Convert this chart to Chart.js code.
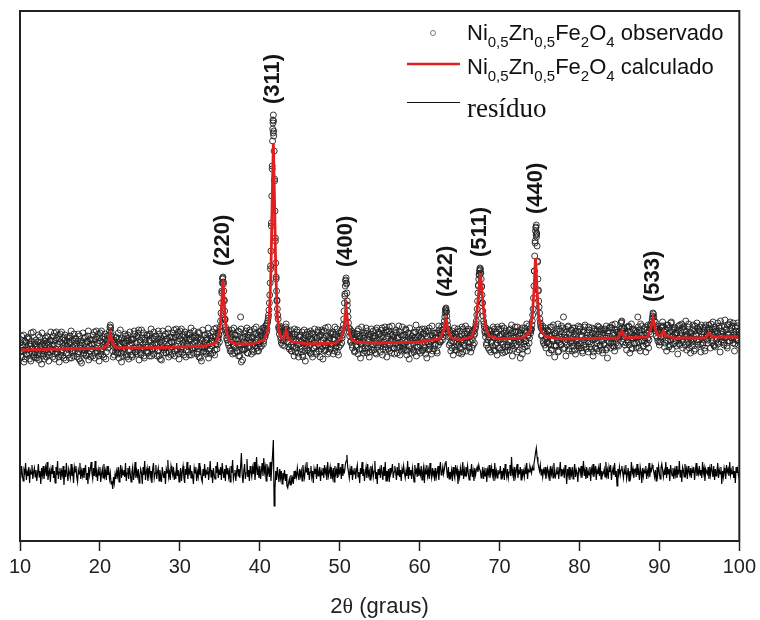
<!DOCTYPE html>
<html>
<head>
<meta charset="utf-8">
<script src="https://cdn.jsdelivr.net/npm/chart.js"></script>
<style>
  body { margin: 0; background: #fff; }
</style>
</head>
<body>
<canvas id="xrdChart" width="760" height="620"></canvas>

<script>
// 2θ grid of the measured pattern (10 to 100, step 0.1; second pass shifted by 0.05)
const thetaStart = 10;
const thetaStep = 0.1;
const thetaShiftB = 0.05;

// observed intensity at 10.0, 10.1, ... one line per degree
const obsCounts = [
198,185,205,190,194,179,200,196,187,203,
191,202,182,197,208,188,193,184,199,189,
201,192,186,206,181,195,199,177,197,190,
187,196,203,184,198,204,180,194,189,200,
196,184,200,208,187,192,203,189,206,179,
199,186,209,191,195,183,201,197,188,204,
192,203,183,198,210,189,194,185,200,190,
202,193,187,207,182,196,200,178,198,191,
188,197,204,185,199,205,181,195,190,201,
197,185,201,209,188,193,204,190,207,180,
200,187,210,192,196,184,202,198,189,205,
193,201,210,216,209,202,190,198,186,196,
203,194,188,208,183,197,201,179,199,192,
189,198,205,186,200,206,182,196,191,202,
198,186,202,210,189,194,205,191,208,181,
201,188,211,193,197,185,203,199,190,206,
194,205,185,200,212,191,196,187,202,192,
205,196,190,210,185,199,203,181,201,194,
191,200,207,188,202,208,184,198,193,204,
199,187,203,211,190,195,206,192,209,182,
202,189,212,194,198,186,204,200,191,207,
195,206,186,201,213,192,197,188,203,193,
204,195,189,209,184,198,202,180,200,193,
190,199,206,187,201,207,183,197,192,203,
200,188,204,212,191,197,208,196,203,206,
210,220,238,258,264,250,230,214,208,201,
205,196,208,190,199,211,187,201,195,206,
193,202,189,210,196,185,224,179,203,191,
200,207,192,198,213,188,203,195,209,199,
204,191,198,212,195,201,208,190,206,197,
199,210,195,205,213,200,211,206,216,212,
220,226,238,258,290,345,400,426,390,330,
278,250,232,222,212,215,204,198,209,201,
206,195,211,217,207,199,210,192,203,196,
190,204,199,185,207,201,193,211,188,197,
206,195,189,209,184,198,202,180,200,193,
191,200,207,188,202,208,184,198,193,204,
200,187,203,211,190,195,206,192,209,182,
203,190,213,195,199,187,205,201,192,208,
196,207,187,202,214,193,198,189,204,194,
205,196,208,203,212,222,238,255,263,248,
230,218,209,212,200,206,193,203,208,190,
201,194,210,187,199,205,183,197,192,206,
208,199,193,213,188,202,206,184,204,197,
194,203,210,191,205,211,187,201,196,207,
202,189,205,213,192,197,208,194,211,184,
205,192,214,196,200,188,206,202,193,209,
197,208,188,203,215,194,199,190,205,195,
206,197,191,211,186,200,204,182,202,195,
192,201,208,189,203,209,185,199,194,205,
201,188,204,212,191,196,207,193,210,183,
204,191,213,195,199,187,205,201,192,208,
197,208,188,203,215,200,199,206,211,204,
212,220,228,233,225,216,209,196,205,190,
200,210,186,203,194,207,191,199,212,197,
205,193,201,214,189,198,207,195,203,210,
199,212,193,205,189,208,201,196,210,207,
214,220,232,248,262,270,272,262,246,230,
220,214,208,213,198,207,193,204,210,189,
198,207,214,191,203,196,209,186,201,212,
193,205,199,215,188,202,208,194,206,190,
207,196,211,191,200,216,185,203,198,209,
195,204,189,210,199,206,183,201,213,192,
203,210,194,200,217,190,205,198,212,208,
212,220,232,255,285,310,316,295,262,240,
228,218,213,206,215,198,209,202,193,207,
199,210,188,205,196,214,191,202,207,184,
208,195,203,217,190,199,210,196,204,213,
224,206,199,185,209,201,215,192,203,198,
211,190,204,198,213,187,206,200,195,209,
197,214,193,205,188,210,201,216,194,203,
206,189,211,199,204,192,208,185,203,212,
193,204,198,215,190,207,196,212,200,188,
208,197,212,191,205,183,210,199,214,193,
202,216,195,206,190,211,198,209,204,195,
207,212,218,220,210,202,213,196,208,191,
210,199,214,188,205,217,193,203,211,197,
204,193,209,224,199,211,190,206,215,200,
195,212,203,189,208,198,216,201,213,207,
216,222,228,224,214,219,205,212,200,208,
196,211,204,213,219,215,209,198,212,190,
207,216,194,209,201,219,192,205,212,198,
213,200,208,187,215,203,196,210,217,193,
199,211,205,220,191,207,214,197,203,188,
208,195,216,202,210,192,206,218,199,212,
201,214,189,207,196,213,204,190,216,205,
211,198,216,212,193,207,200,219,196,209,
194,210,203,218,199,213,189,207,215,201,
209,196,221,204,212,193,206,217,200,211,
203,215,198,209,190,214,207,201,218,196,
206
];

// observed intensity at 10.05, 10.15, ... 99.95
const obsCountsB = [
189,201,184,196,206,191,182,199,194,186,
204,188,195,180,200,192,209,186,197,183,
195,183,199,190,204,187,196,208,185,198,
182,200,191,205,188,197,186,201,209,192,
190,205,196,182,201,209,188,197,184,202,
207,189,198,185,203,193,206,181,200,195,
186,199,205,192,183,201,190,207,195,203,
197,184,200,189,205,180,198,191,208,187,
203,191,186,200,193,210,187,202,184,196,
192,206,197,183,202,210,189,198,185,203,
208,190,199,186,204,194,207,182,201,196,
197,206,214,213,205,199,184,201,193,189,
204,191,187,202,195,211,188,203,185,198,
193,207,198,184,203,190,200,209,186,201,
184,202,193,207,189,198,187,204,211,194,
199,186,203,192,208,183,201,194,206,189,
188,201,207,194,185,203,192,209,197,205,
198,185,202,191,207,182,200,193,210,188,
205,193,188,202,195,212,189,204,186,199,
194,208,199,185,204,212,191,200,187,205,
210,192,201,188,206,196,209,184,203,197,
189,202,208,195,186,204,193,210,198,206,
200,187,203,192,208,183,201,194,211,189,
206,194,189,203,196,213,190,205,187,200,
195,209,200,186,205,213,192,201,207,199,
214,228,250,263,257,241,221,211,203,209,
198,211,193,204,190,207,196,213,188,202,
206,190,200,185,209,197,212,192,181,204,
191,204,210,197,188,206,194,211,200,187,
203,196,189,207,199,214,193,202,190,209,
194,206,201,208,197,213,204,215,209,218,
223,231,246,275,315,375,421,410,362,303,
264,241,226,214,207,210,201,213,196,205,
200,209,214,212,203,207,194,205,211,190,
207,194,202,212,189,200,209,196,184,204,
192,205,199,186,203,211,190,206,197,209,
204,190,196,210,187,201,207,193,212,195,
189,203,209,196,205,184,200,211,194,201,
210,196,191,205,198,214,189,203,207,193,
197,209,201,190,206,195,212,199,186,208,
202,210,198,206,216,230,245,261,257,240,
224,213,205,199,210,196,207,201,189,204,
196,207,200,212,191,203,198,214,205,188,
203,190,208,197,210,193,201,189,207,212,
191,205,196,203,188,200,213,194,209,198,
207,195,211,186,204,199,214,191,202,209,
198,210,190,207,201,215,193,204,187,200,
211,193,203,196,209,186,206,198,214,192,
193,206,212,199,190,208,195,213,201,188,
205,198,191,209,201,216,194,203,190,211,
196,209,203,190,207,194,212,187,205,199,
210,197,192,206,199,215,190,208,196,203,
203,190,208,196,211,199,206,214,201,208,
216,224,232,229,220,212,204,210,198,206,
193,207,199,213,191,204,209,195,202,188,
210,199,187,205,212,196,203,215,190,207,
203,194,210,199,206,193,211,205,198,212,
217,226,240,255,266,273,268,254,238,225,
217,210,204,196,209,201,211,191,206,199,
210,195,204,212,190,207,198,214,193,205,
201,212,191,206,197,213,189,204,210,196,
194,205,199,212,208,195,210,192,203,214,
209,196,214,202,191,208,199,211,187,206,
197,213,200,209,195,206,215,203,210,211,
216,226,243,270,298,313,307,279,251,234,
222,215,205,211,200,210,196,213,204,198,
211,197,205,214,191,206,200,216,195,208,
196,210,200,189,212,204,197,215,202,192,
209,193,212,203,196,214,190,207,199,211,
200,213,195,207,191,210,202,196,215,193,
212,198,206,190,209,196,214,203,192,208,
199,214,194,206,197,213,201,189,210,202,
207,192,211,200,214,195,204,210,191,206,
196,211,203,215,193,208,200,213,205,198,
213,199,208,194,217,202,211,196,209,203,
209,205,219,213,199,212,204,207,198,214,
201,215,196,209,203,192,212,205,198,210,
211,198,204,214,193,208,217,200,206,195,
206,200,214,197,211,203,193,209,216,212,
219,225,227,220,212,210,215,203,210,199,
209,199,215,207,214,205,194,211,201,216,
200,213,205,196,218,204,211,197,214,207,
208,195,211,203,197,216,206,200,213,202,
214,204,196,210,206,199,217,193,209,201,
199,212,205,190,215,207,201,213,196,210,
210,197,216,204,198,209,193,214,202,207,
201,213,205,209,217,198,212,206,195,214,
212,201,208,197,215,204,220,199,210,205,
198,214,203,211,195,216,207,200,219,204,
213,201,218,206,197,210,203,215,200,209
];

// extra observed points on the steep peak flanks
const obsExtraTheta  = [35.25,35.35,35.45,35.55,35.65, 41.35,41.45,41.55,41.62,41.65,41.68,41.72,41.75,41.85,41.95,42.05,42.15, 50.65,50.75,50.85,50.95, 63.25,63.35, 67.35,67.45,67.55,67.65,67.75,67.85, 74.35,74.45,74.55,74.58,74.62,74.65,74.75,74.85];
const obsExtraCounts = [248,262,259,240,222, 272,318,372,412,418,408,420,405,360,300,262,240, 247,260,258,236, 231,230, 256,267,271,268,255,238, 270,300,314,306,304,308,280,250];

// calculated (Rietveld) profile
const calcTheta = [10,15,19,20.5,21.0,21.3,21.6,22.0,25,30,33,34.5,35.0,35.2,35.4,35.6,35.8,36.2,37,39,40.5,41.0,41.2,41.4,41.55,41.7,41.85,42.0,42.2,42.4,42.7,43.0,43.3,43.6,44.2,46,49.5,50.2,50.5,50.8,51.1,51.4,52,55,60,62.5,63.0,63.3,63.6,64.0,65,66.5,67.0,67.3,67.6,67.9,68.2,68.7,70,73,73.8,74.1,74.3,74.5,74.7,74.9,75.2,75.8,78,84.8,85.3,85.7,88.5,88.9,89.2,89.5,89.8,90.2,90.5,90.8,92,95.8,96.2,96.6,100];
const calcCounts = [191,191.8,192.5,193,197,207,197,193.5,193,194,195,198,210,232,261,232,210,200,197,197,201,210,225,270,340,398,340,270,225,210,203,202,210,202,199,197,198,203,212,233,212,203,199,198,199,202,210,221,210,203,201,204,215,240,268,240,215,205,202,203,210,225,250,283,250,225,210,204,202,203,210,203,204,212,223,212,206,205,210,205,203,203,208,204,204];

// residual (observed - calculated, offset), same grid as obsCounts
const residCounts = [
72,63,75,66,60,71,68,78,61,69,
65,74,58,70,67,76,62,69,73,64,
71,60,68,77,64,70,57,73,66,75,
62,69,74,65,79,61,68,71,59,72,
67,76,63,70,58,74,66,80,62,69,
73,61,70,66,75,56,71,64,78,67,
60,72,68,63,77,65,70,58,74,69,
75,64,59,71,67,78,62,70,65,73,
63,70,76,61,68,57,74,66,72,79,
68,62,73,65,80,64,69,60,71,66,
74,59,67,72,63,77,65,70,61,75,
66,71,62,68,57,60,52,64,58,67,
62,70,65,74,59,69,76,63,71,66,
71,64,78,60,68,73,62,75,67,59,
69,74,61,67,79,63,70,65,72,58,
65,72,68,57,74,66,80,61,69,73,
60,67,75,64,70,58,72,78,63,68,
76,62,69,73,60,71,65,59,74,67,
63,70,57,72,68,81,64,69,61,75,
70,66,74,61,67,62,78,65,71,59,
67,73,60,69,75,64,58,72,66,79,
62,71,68,76,63,70,65,57,73,68,
74,60,69,64,78,66,71,62,59,72,
65,77,63,70,67,74,61,69,80,64,
71,58,73,66,62,75,68,79,63,70,
66,74,61,78,69,63,72,60,76,67,
73,64,70,59,75,68,81,62,67,71,
60,69,76,65,72,63,74,88,66,58,
70,77,62,68,82,64,71,60,75,69,
64,73,67,79,61,70,84,66,72,63,
75,62,70,78,65,83,69,74,60,77,
68,72,64,79,60,74,86,101,35,52,
70,61,74,66,59,72,63,70,57,68,
64,71,60,67,55,53,58,62,56,66,
59,63,57,70,62,68,64,73,66,61,
72,65,70,60,76,67,63,74,69,79,
66,73,61,69,75,64,70,58,72,67,
71,62,77,65,68,74,60,70,66,73,
63,76,68,72,61,79,65,69,74,62,
70,64,73,59,75,67,71,63,78,66,
68,74,62,77,65,71,69,76,80,86,
74,69,63,72,66,75,61,70,67,73,
62,71,76,64,69,58,73,67,79,65,
72,60,68,74,63,77,66,70,61,75,
67,73,64,70,80,62,69,57,72,66,
71,63,76,68,61,74,65,79,60,70,
64,72,59,73,67,70,77,63,69,75,
69,61,74,66,78,64,71,60,72,67,
75,68,63,70,65,80,62,74,66,71,
62,73,67,59,76,68,71,64,78,65,
70,66,75,61,69,74,58,72,67,76,
65,71,62,78,68,63,73,66,70,60,
73,64,69,75,61,71,79,66,68,74,
67,72,78,80,70,63,74,62,69,65,
71,60,74,67,63,76,68,72,57,70,
64,73,66,70,79,62,71,65,74,68,
75,67,61,72,68,77,64,70,60,73,
66,71,74,69,76,72,70,63,68,74,
62,70,65,73,59,71,67,76,63,69,
74,66,72,60,78,65,70,63,71,67,
68,75,62,70,66,73,61,77,69,64,
72,63,69,76,65,84,67,71,60,74,
65,71,77,63,70,68,74,61,72,66,
70,64,73,67,78,62,71,69,75,72,
68,74,71,77,82,88,93,84,78,74,
70,76,66,72,64,71,68,74,62,69,
73,65,70,60,75,67,72,63,78,66,
64,71,67,74,62,70,79,65,72,68,
71,63,76,69,57,72,66,74,61,70,
66,74,62,70,77,64,71,68,59,73,
72,67,75,63,69,80,65,71,62,74,
63,70,66,74,60,72,68,77,64,69,
75,61,71,67,73,65,78,62,70,66,
68,72,64,79,66,71,62,74,69,76,
61,69,73,66,78,64,70,55,72,67,
74,66,71,75,69,63,72,67,76,62,
67,73,60,70,65,79,68,72,63,71,
72,64,77,66,70,61,74,69,58,73,
65,71,68,75,62,70,66,78,64,72,
70,76,73,69,64,71,60,74,67,75,
68,62,73,77,71,64,70,66,79,63,
74,67,72,60,76,69,65,73,62,71,
66,75,63,70,68,80,64,71,59,74,
71,64,77,67,72,62,75,69,66,73,
63,72,68,74,61,70,78,65,71,67,
75,66,71,63,79,68,73,60,72,69,
67,74,62,72,66,77,70,64,75,61,
72,65,70,78,63,71,67,74,57,70,
64,73,68,62,76,69,72,65,79,66,
71,67,75,63,70,58,74,68,72,65,
69
];

// Miller indices of the spinel reflections
const hklLabels = ['(220)', '(311)', '(400)', '(422)', '(511)', '(440)', '(533)'];
const hklTheta  = [35.4, 41.7, 50.8, 63.3, 67.6, 74.6, 89.2];

const xTickValues = [10, 20, 30, 40, 50, 60, 70, 80, 90, 100];

// build point lists
const gridTheta = obsCounts.map((_, i) => +(thetaStart + i * thetaStep).toFixed(2));
const obsPoints = gridTheta.map((t, i) => ({x: t, y: obsCounts[i]}))
    .concat(obsCountsB.map((c, i) => ({x: +(thetaStart + thetaShiftB + i * thetaStep).toFixed(2), y: c})))
    .concat(obsExtraTheta.map((t, i) => ({x: t, y: obsExtraCounts[i]})));
const calcPoints = calcTheta.map((t, i) => ({x: t, y: calcCounts[i]}));
const residPoints = gridTheta.map((t, i) => ({x: t, y: residCounts[i]}));

const FONT = '"Liberation Sans", Arial, sans-serif';
const SERIF = '"Liberation Serif", "Times New Roman", serif';

// frame, axis title, hkl labels and the legend (with subscripts)
const decorations = {
    id: 'decorations',
    afterDraw(chart) {
        const {ctx, chartArea: a, scales: {x, y}} = chart;
        ctx.save();

        ctx.strokeStyle = '#222';
        ctx.lineWidth = 2;
        ctx.strokeRect(a.left, a.top, a.right - a.left, a.bottom - a.top);

        function rich(parts, px, py) {
            ctx.textAlign = 'left';
            ctx.textBaseline = 'alphabetic';
            parts.forEach(([s, font, dy]) => {
                ctx.font = font;
                ctx.fillText(s, px, py + dy);
                px += ctx.measureText(s).width;
            });
        }
        function richWidth(parts) {
            return parts.reduce((w, [s, font]) => { ctx.font = font; return w + ctx.measureText(s).width; }, 0);
        }

        // x axis title with a serif theta
        const title = [['2', '22px ' + FONT, 0], ['θ', '22px ' + SERIF, 0], [' (graus)', '22px ' + FONT, 0]];
        ctx.fillStyle = '#222';
        rich(title, (a.left + a.right) / 2 - richWidth(title) / 2, 613);

        // reflection labels, placed just above the highest observed point of each peak
        ctx.fillStyle = '#151515';
        ctx.font = 'bold 22px ' + FONT;
        ctx.textAlign = 'left';
        ctx.textBaseline = 'middle';
        hklLabels.forEach((lab, i) => {
            const t = hklTheta[i];
            let top = 0;
            obsPoints.forEach(p => { if (Math.abs(p.x - t) <= 0.3 && p.y > top) top = p.y; });
            ctx.save();
            ctx.translate(x.getPixelForValue(t), y.getPixelForValue(top) - 11);
            ctx.rotate(-Math.PI / 2);
            ctx.fillText(lab, 0, 0);
            ctx.restore();
        });

        // legend
        const big = '22px ' + FONT, small = '15px ' + FONT;
        const formula = [['Ni', big, 0], ['0,5', small, 7], ['Zn', big, 0], ['0,5', small, 7],
                         ['Fe', big, 0], ['2', small, 7], ['O', big, 0], ['4', small, 7]];
        ctx.fillStyle = '#111';

        ctx.beginPath();
        ctx.arc(433, 33, 2.5, 0, Math.PI * 2);
        ctx.strokeStyle = '#555';
        ctx.lineWidth = 0.8;
        ctx.stroke();
        rich(formula.concat([[' observado', big, 0]]), 467, 40);

        ctx.beginPath();
        ctx.moveTo(407, 64); ctx.lineTo(460, 64);
        ctx.strokeStyle = '#e02020';
        ctx.lineWidth = 2.5;
        ctx.stroke();
        rich(formula.concat([[' calculado', big, 0]]), 467, 74);

        ctx.beginPath();
        ctx.moveTo(407, 102.5); ctx.lineTo(460, 102.5);
        ctx.strokeStyle = '#111';
        ctx.lineWidth = 1;
        ctx.stroke();
        rich([['resíduo', '27px ' + SERIF, 0]], 467, 117);

        ctx.restore();
    }
};

new Chart(document.getElementById('xrdChart'), {
    type: 'scatter',
    data: {
        datasets: [
            {
                label: 'calculado',
                data: calcPoints,
                showLine: true,
                borderColor: '#e02020',
                borderWidth: 2.8,
                pointRadius: 0,
                tension: 0
            },
            {
                label: 'observado',
                data: obsPoints,
                pointRadius: 3,
                pointBorderWidth: 0.9,
                pointBorderColor: '#222',
                pointBackgroundColor: 'rgba(0,0,0,0)'
            },
            {
                label: 'resíduo',
                data: residPoints,
                showLine: true,
                borderColor: '#000',
                borderWidth: 1.2,
                pointRadius: 0,
                tension: 0
            }
        ]
    },
    options: {
        responsive: false,
        animation: false,
        devicePixelRatio: 1,
        layout: { padding: { left: 20, right: 20, top: 11, bottom: 0 } },
        plugins: {
            legend: { display: false },
            tooltip: { enabled: false }
        },
        scales: {
            x: {
                type: 'linear',
                min: 10,
                max: 100,
                afterBuildTicks: s => { s.ticks = xTickValues.map(v => ({value: v})); },
                afterFit: s => { s.height = 79; },
                ticks: {
                    color: '#222',
                    padding: 4,
                    font: { family: FONT, size: 20 },
                    maxRotation: 0
                },
                grid: {
                    drawOnChartArea: false,
                    tickLength: 10,
                    tickColor: '#222',
                    tickWidth: 1.5
                },
                border: { display: true, color: '#222', width: 2 },
                title: { display: false }
            },
            y: {
                display: false,
                min: 0,
                max: 530
            }
        }
    },
    plugins: [decorations]
});
</script>
</body>
</html>
